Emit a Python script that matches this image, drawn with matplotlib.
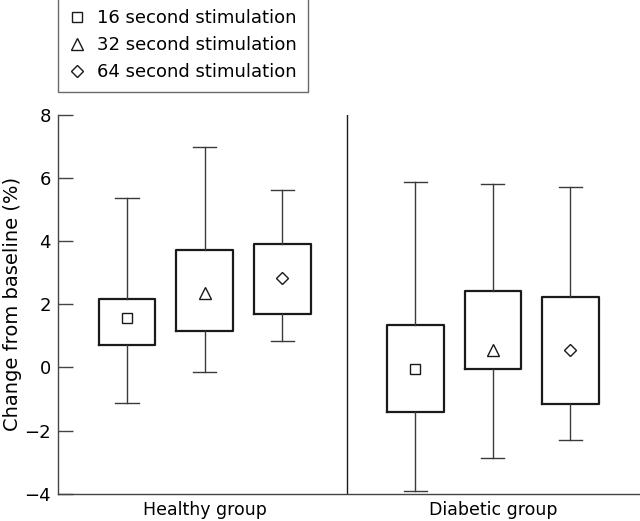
import numpy as np
import matplotlib.pyplot as plt
from matplotlib.lines import Line2D

# datos
groups = ["Healthy group", "Diabetic group"]
series = ["16 second stimulation", "32 second stimulation", "64 second stimulation"]
markers = ["s", "^", "D"]

# [healthy, diabetic] por serie
whis_lo = [[-1.11, -3.92], [-0.15, -2.85], [0.83, -2.31]]
q1 = [[0.72, -1.42], [1.15, -0.04], [1.69, -1.16]]
mean = [[1.57, -0.06], [2.35, 0.56], [2.82, 0.56]]
q3 = [[2.17, 1.33], [3.72, 2.41], [3.90, 2.24]]
whis_hi = [[5.36, 5.87], [6.99, 5.82], [5.62, 5.72]]

group_pos = np.array([1.0, 4.714])
offsets = [0.0, 1.0, 2.0]

plt.rcParams["font.family"] = ["DejaVu Sans"]
fig = plt.figure(figsize=(6.4, 5.21), dpi=100)
ax = fig.add_axes([0.0906, 0.052, 0.9094, 0.728])

edge = "#1a1a1a"
wcol = "#3a3a3a"
msizes = [7, 8, 6.5]

for i in range(3):
    stats = []
    for g in range(2):
        stats.append(dict(whislo=whis_lo[i][g], q1=q1[i][g], med=mean[i][g],
                          q3=q3[i][g], whishi=whis_hi[i][g], mean=mean[i][g]))
    ax.bxp(stats, positions=group_pos + offsets[i], widths=0.73,
           showfliers=False, showmeans=True, capwidths=0.3,
           boxprops=dict(color=edge, linewidth=1.6),
           whiskerprops=dict(color=wcol, linewidth=1.0),
           capprops=dict(color=wcol, linewidth=1.0),
           medianprops=dict(linewidth=0),
           meanprops=dict(marker=markers[i], markerfacecolor="white",
                          markeredgecolor=edge, markersize=msizes[i],
                          markeredgewidth=1.0))

ax.set_xlim(0.111, 7.61)
ax.set_ylim(-4, 8)
ax.axvline(3.835, color=edge, linewidth=1.0)

for s in ["top", "right"]:
    ax.spines[s].set_visible(False)
for s in ["left", "bottom"]:
    ax.spines[s].set_color("#444444")
    ax.spines[s].set_linewidth(1.0)

ax.set_yticks([-4, -2, 0, 2, 4, 6, 8])
ax.set_yticklabels(["\u22124", "\u22122", "0", "2", "4", "6", "8"])
ax.tick_params(axis="y", direction="in", length=11, width=1.0, color="#444444",
               labelsize=13, pad=5)
ax.set_xticks(group_pos + 1.0)
ax.set_xticklabels(groups)
ax.tick_params(axis="x", length=0, labelsize=12.5, pad=5)
ax.set_ylabel("Change from baseline (%)", fontsize=14)
ax.yaxis.set_label_coords(-0.062, 0.5)

handles = [Line2D([], [], linestyle="none", marker=m, markerfacecolor="white",
                  markeredgecolor=edge, markersize=ms, markeredgewidth=1.0)
           for m, ms in zip(markers, msizes)]
leg = fig.legend(handles, series, loc="upper left",
                 bbox_to_anchor=(0.0906, 1.003), fontsize=13,
                 frameon=True, fancybox=False, handlelength=0.9,
                 handletextpad=0.67, borderpad=0.6, labelspacing=0.5,
                 borderaxespad=0)
leg.get_frame().set_edgecolor("#444444")
leg.get_frame().set_linewidth(1.0)

fig.savefig("out.png", dpi=100)
